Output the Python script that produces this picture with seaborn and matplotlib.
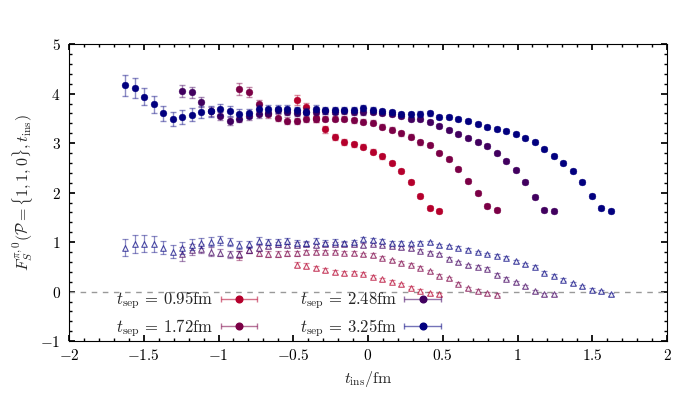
import numpy as np
import pandas as pd
import matplotlib
matplotlib.use("Agg")
import matplotlib.pyplot as plt
import seaborn as sns
from matplotlib.ticker import MultipleLocator, FuncFormatter
from matplotlib.colors import to_rgba
from matplotlib.container import ErrorbarContainer
from matplotlib.legend_handler import HandlerErrorbar

# ---------------- data ----------------
lattice_a = 0.0637  # fm
t_sep_labels = ["0.95", "1.72", "2.48", "3.25"]
n_points = [16, 28, 40, 52]
colors = ["#B5002C", "#7B0046", "#41005F", "#02007F"]

# upper series (filled circles)
c_095 = [3.87, 3.72, 3.51, 3.28, 3.13, 3.03, 2.98, 2.93, 2.83, 2.73,
         2.60, 2.44, 2.21, 1.93, 1.69, 1.63]
c_172 = [4.09, 4.03, 3.78, 3.59, 3.51, 3.45, 3.45, 3.49, 3.49, 3.49,
         3.49, 3.49, 3.46, 3.43, 3.41, 3.33, 3.27, 3.20, 3.13, 3.02,
         2.96, 2.81, 2.67, 2.48, 2.24, 1.99, 1.72, 1.65]
c_248 = [4.06, 4.03, 3.83, 3.64, 3.54, 3.45, 3.49, 3.54, 3.58, 3.60,
         3.66, 3.62, 3.60, 3.63, 3.62, 3.64, 3.63, 3.64, 3.62, 3.62,
         3.62, 3.60, 3.58, 3.54, 3.49, 3.48, 3.43, 3.35, 3.26, 3.18,
         3.10, 3.03, 2.95, 2.79, 2.63, 2.45, 2.22, 1.92, 1.65, 1.63]
c_325 = [4.17, 4.11, 3.94, 3.78, 3.60, 3.48, 3.53, 3.57, 3.62, 3.64,
         3.68, 3.64, 3.59, 3.60, 3.68, 3.68, 3.68, 3.69, 3.66, 3.63,
         3.69, 3.66, 3.66, 3.66, 3.66, 3.70, 3.66, 3.64, 3.62, 3.58,
         3.58, 3.59, 3.60, 3.53, 3.52, 3.49, 3.45, 3.39, 3.33, 3.29,
         3.25, 3.19, 3.10, 3.02, 2.88, 2.74, 2.59, 2.43, 2.21, 1.93,
         1.68, 1.62]

ce_095 = [0.11, 0.09, 0.08, 0.07, 0.06, 0.06, 0.05, 0.05, 0.05, 0.05,
          0.04, 0.04, 0.04, 0.04, 0.04, 0.04]
ce_172 = [0.12, 0.10, 0.09, 0.08, 0.07, 0.07, 0.06, 0.06, 0.06, 0.05,
          0.05, 0.05, 0.05, 0.05, 0.05, 0.05, 0.05, 0.05, 0.05, 0.05,
          0.04, 0.04, 0.04, 0.04, 0.04, 0.04, 0.04, 0.04]
ce_248 = [0.12, 0.11, 0.10, 0.09, 0.08, 0.08, 0.07, 0.07, 0.07, 0.06,
          0.06, 0.06, 0.06, 0.05, 0.05, 0.05, 0.05, 0.05, 0.05, 0.05,
          0.04, 0.04, 0.04, 0.04, 0.04, 0.04, 0.04, 0.04, 0.04, 0.04,
          0.04, 0.04, 0.04, 0.04, 0.04, 0.04, 0.04, 0.04, 0.04, 0.04]
ce_325 = [0.21, 0.20, 0.18, 0.17, 0.15, 0.14, 0.14, 0.13, 0.12, 0.11,
          0.11, 0.10, 0.10, 0.09, 0.09, 0.08, 0.08, 0.08, 0.07, 0.07,
          0.07, 0.07, 0.07, 0.06, 0.06, 0.06, 0.06, 0.05, 0.05, 0.05,
          0.05, 0.05, 0.05, 0.04, 0.04, 0.04, 0.04, 0.04, 0.04, 0.04,
          0.04, 0.04, 0.04, 0.04, 0.04, 0.04, 0.04, 0.04, 0.04, 0.04,
          0.04, 0.04]

# lower series (open triangles)
t_095 = [0.54, 0.52, 0.48, 0.44, 0.39, 0.38, 0.38, 0.36, 0.30, 0.25,
         0.20, 0.15, 0.08, 0.02, -0.03, -0.05]
t_172 = [0.73, 0.85, 0.78, 0.76, 0.76, 0.77, 0.77, 0.80, 0.80, 0.81,
         0.81, 0.79, 0.78, 0.75, 0.73, 0.68, 0.63, 0.58, 0.54, 0.48,
         0.41, 0.32, 0.27, 0.16, 0.07, 0.02, -0.03, -0.06]
t_248 = [0.76, 0.85, 0.87, 0.81, 0.79, 0.75, 0.76, 0.85, 0.88, 0.93,
         0.96, 0.95, 0.95, 0.96, 0.95, 0.96, 0.97, 0.96, 0.97, 0.95,
         0.97, 0.95, 0.93, 0.90, 0.88, 0.83, 0.79, 0.75, 0.66, 0.59,
         0.53, 0.50, 0.46, 0.34, 0.26, 0.19, 0.11, 0.01, -0.05, -0.05]
t_325 = [0.89, 0.97, 0.97, 0.96, 0.89, 0.81, 0.88, 0.95, 0.98, 1.01,
         1.04, 1.00, 0.95, 0.96, 1.03, 1.01, 1.01, 1.02, 0.99, 0.98,
         1.03, 0.99, 1.01, 0.99, 1.01, 1.06, 1.04, 1.02, 0.99, 0.98,
         0.98, 0.99, 1.00, 0.94, 0.92, 0.89, 0.85, 0.80, 0.76, 0.72,
         0.68, 0.61, 0.55, 0.50, 0.38, 0.32, 0.24, 0.17, 0.11, 0.04,
         0.01, -0.05]

te_095 = [0.05, 0.05, 0.04, 0.04, 0.04, 0.04, 0.03, 0.03, 0.03, 0.03,
          0.03, 0.03, 0.03, 0.03, 0.03, 0.03]
te_172 = [0.10, 0.08, 0.07, 0.06, 0.06, 0.05, 0.05, 0.05, 0.04, 0.04,
          0.04, 0.04, 0.04, 0.04, 0.04, 0.03, 0.03, 0.03, 0.03, 0.03,
          0.03, 0.03, 0.03, 0.03, 0.03, 0.03, 0.03, 0.03]
te_248 = [0.14, 0.11, 0.10, 0.09, 0.08, 0.07, 0.07, 0.06, 0.06, 0.05,
          0.05, 0.05, 0.05, 0.04, 0.04, 0.04, 0.04, 0.04, 0.04, 0.04,
          0.03, 0.03, 0.03, 0.03, 0.03, 0.03, 0.03, 0.03, 0.03, 0.03,
          0.03, 0.03, 0.03, 0.03, 0.03, 0.03, 0.03, 0.03, 0.03, 0.03]
te_325 = [0.18, 0.18, 0.17, 0.16, 0.14, 0.13, 0.12, 0.11, 0.10, 0.09,
          0.09, 0.08, 0.08, 0.07, 0.07, 0.06, 0.06, 0.06, 0.05, 0.05,
          0.05, 0.05, 0.05, 0.04, 0.04, 0.04, 0.04, 0.04, 0.04, 0.04,
          0.03, 0.03, 0.03, 0.03, 0.03, 0.03, 0.03, 0.03, 0.03, 0.03,
          0.03, 0.03, 0.03, 0.03, 0.03, 0.03, 0.03, 0.03, 0.03, 0.03,
          0.03, 0.03]

circ_vals = [c_095, c_172, c_248, c_325]
circ_errs = [ce_095, ce_172, ce_248, ce_325]
tri_vals = [t_095, t_172, t_248, t_325]
tri_errs = [te_095, te_172, te_248, te_325]

# ---------------- style ----------------
sns.set_theme(style="ticks")
plt.rcParams.update({
    "font.family": "serif",
    "font.serif": ["cmr10", "DejaVu Serif"],
    "mathtext.fontset": "cm",
    "axes.formatter.use_mathtext": True,
    "font.size": 11,
    "axes.linewidth": 0.8,
    "axes.edgecolor": "black",
    "xtick.direction": "in",
    "ytick.direction": "in",
    "xtick.top": True,
    "ytick.right": True,
    "xtick.minor.visible": True,
    "ytick.minor.visible": True,
    "xtick.major.size": 4,
    "ytick.major.size": 4,
    "xtick.minor.size": 2,
    "ytick.minor.size": 2,
    "xtick.labelsize": 11,
    "ytick.labelsize": 11,
    "xtick.major.pad": 5,
    "ytick.major.pad": 6,
    "xtick.color": "black",
    "ytick.color": "black",
})

fig = plt.figure(figsize=(6.93, 4.16), dpi=100)
ax = fig.add_axes([0.0996, 0.180, 0.8629, 0.714])

ax.axhline(0, color="#999999", lw=1.0, ls=(0, (4, 4)), zorder=1)

rows = []
for lab, n, cv, ce, tv, te in zip(t_sep_labels, n_points, circ_vals, circ_errs, tri_vals, tri_errs):
    t_ins = (np.arange(n) - (n - 1) / 2) * lattice_a
    for i in range(n):
        rows.append(dict(tsep=lab, t=t_ins[i], kind="circ", v=cv[i], e=ce[i]))
        rows.append(dict(tsep=lab, t=t_ins[i], kind="tri", v=tv[i], e=te[i]))
df = pd.DataFrame(rows)

handles = []
for z, (lab, col) in enumerate(zip(t_sep_labels, colors)):
    d_c = df[(df.tsep == lab) & (df.kind == "circ")]
    d_t = df[(df.tsep == lab) & (df.kind == "tri")]
    # triangles
    ax.errorbar(d_t.t, d_t.v, yerr=d_t.e, fmt="none", ecolor=to_rgba(col, 0.45),
                elinewidth=0.9, capsize=2.0, capthick=0.9, zorder=2 + z)
    sns.scatterplot(x=d_t.t, y=d_t.v, ax=ax, marker="^", s=16,
                    facecolor=to_rgba("white", 0.9), edgecolor=to_rgba(col, 0.7),
                    linewidth=0.8, zorder=2.5 + z, legend=False)
    # circles
    ax.errorbar(d_c.t, d_c.v, yerr=d_c.e, fmt="none", ecolor=to_rgba(col, 0.45),
                elinewidth=1.0, capsize=2.2, capthick=1.0, zorder=6 + z)
    sns.scatterplot(x=d_c.t, y=d_c.v, ax=ax, marker="o", s=24, color=col,
                    edgecolor=col, linewidth=0.3, zorder=6.5 + z, legend=False)
    h = ax.errorbar([np.nan], [np.nan], xerr=[0.1], fmt="o", ms=4.8, color=col,
                    ecolor=to_rgba(col, 0.55), elinewidth=1.0, capsize=2.5,
                    label=r"$t_{\rm sep}\,=\," + lab + r"{\rm fm}$")
    handles.append(h)

ax.set_xlim(-2, 2)
ax.set_ylim(-1, 5)
ax.xaxis.set_major_locator(MultipleLocator(0.5))
ax.xaxis.set_minor_locator(MultipleLocator(0.1))
ax.yaxis.set_major_locator(MultipleLocator(1))
ax.yaxis.set_minor_locator(MultipleLocator(0.2))
fmt = FuncFormatter(lambda v, p: (r"$%g$" % v) if abs(v) > 1e-9 else r"$0$")
ax.xaxis.set_major_formatter(fmt)
ax.yaxis.set_major_formatter(fmt)
ax.set_xlabel(r"$t_{\rm ins}/{\rm fm}$", fontsize=11.5)
ax.set_ylabel(r"$F_S^{\pi,0}(\mathcal{P}=\{1,1,0\},t_{\rm ins})$", fontsize=11.5)

leg = ax.legend(handles=handles, ncol=2, loc="upper left",
                bbox_to_anchor=(0.067, 0.196), frameon=False, markerfirst=False,
                fontsize=12, handlelength=2.5, handletextpad=0.3,
                columnspacing=2.4, labelspacing=0.35, borderaxespad=0,
                handler_map={ErrorbarContainer: HandlerErrorbar(xerr_size=1.1)})

fig.savefig("out.png", dpi=100)
